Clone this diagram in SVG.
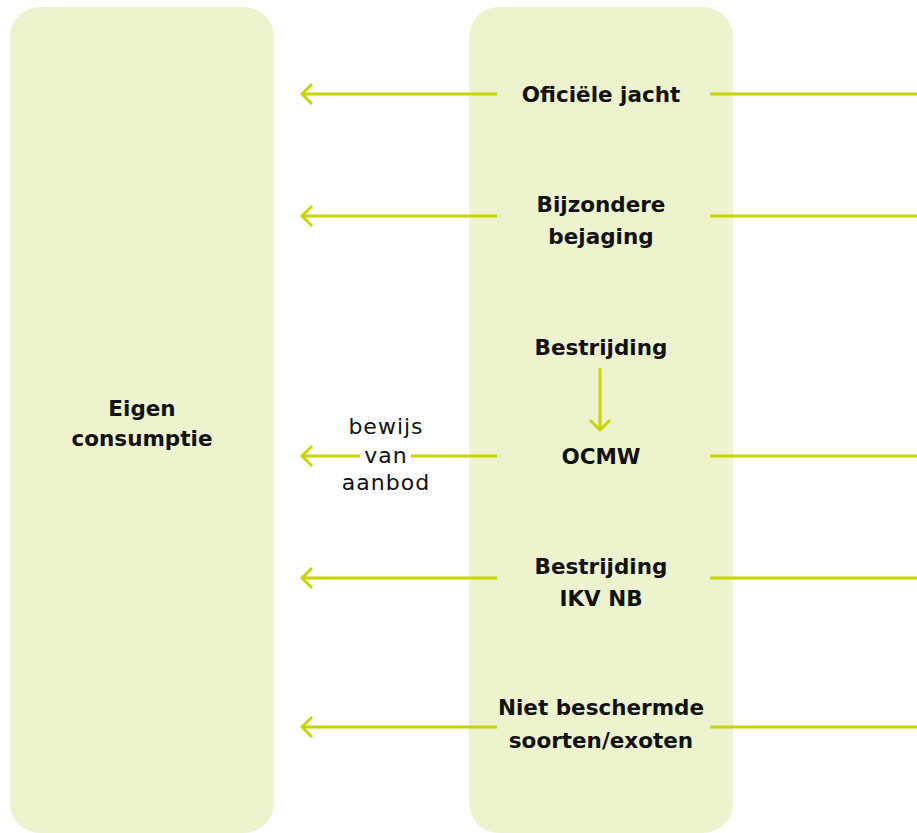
<svg xmlns="http://www.w3.org/2000/svg" width="917" height="833" viewBox="0 0 917 833">
<style>
.box{fill:#eef3cf}
.t{font-family:"DejaVu Sans",sans-serif;font-weight:bold;font-size:21.5px;fill:#111;text-anchor:middle}
.s{font-family:"DejaVu Sans",sans-serif;font-size:22px;letter-spacing:1px;fill:#111;text-anchor:middle}
.ln{stroke:#c8d400;stroke-width:3;fill:none}
</style>
<defs>
<marker id="ah" markerUnits="userSpaceOnUse" markerWidth="20" markerHeight="26" refX="18" refY="13" orient="auto" viewBox="0 0 20 26">
<path d="M8,3 L18,13 L8,23" fill="none" stroke="#c8d400" stroke-width="3"/>
</marker>
</defs>
<g id="eigen-consumptie">
<rect class="box" x="10" y="7" width="264" height="826" rx="30"/>
<text class="t" x="142" y="416">Eigen</text>
<text class="t" x="142" y="446">consumptie</text>
</g>
<g id="center-panel">
<rect class="box" x="469" y="7" width="264" height="826" rx="30"/>
</g>
<g id="connectors">
<line class="ln" x1="497" y1="94" x2="302" y2="94" marker-end="url(#ah)"/>
<line class="ln" x1="710" y1="94" x2="917" y2="94"/>
<line class="ln" x1="497" y1="216" x2="302" y2="216" marker-end="url(#ah)"/>
<line class="ln" x1="710" y1="216" x2="917" y2="216"/>
<line class="ln" x1="600" y1="368" x2="600" y2="430" marker-end="url(#ah)"/>
<line class="ln" x1="360" y1="456" x2="302" y2="456" marker-end="url(#ah)"/>
<line class="ln" x1="497" y1="456" x2="411" y2="456"/>
<line class="ln" x1="710" y1="456" x2="917" y2="456"/>
<line class="ln" x1="497" y1="578" x2="302" y2="578" marker-end="url(#ah)"/>
<line class="ln" x1="710" y1="578" x2="917" y2="578"/>
<line class="ln" x1="497" y1="727" x2="302" y2="727" marker-end="url(#ah)"/>
<line class="ln" x1="710" y1="727" x2="917" y2="727"/>
</g>
<g id="label-bewijs">
<text class="s" x="386" y="434">bewijs</text>
<text class="s" x="386" y="463">van</text>
<text class="s" x="386" y="490">aanbod</text>
</g>
<g id="officiele-jacht"><text class="t" x="601" y="102">Oficiële jacht</text></g>
<g id="bijzondere-bejaging"><text class="t" x="601" y="212">Bijzondere</text><text class="t" x="601" y="244">bejaging</text></g>
<g id="bestrijding"><text class="t" x="601" y="355">Bestrijding</text></g>
<g id="ocmw"><text class="t" x="601" y="464">OCMW</text></g>
<g id="bestrijding-ikv"><text class="t" x="601" y="574">Bestrijding</text><text class="t" x="601" y="606">IKV NB</text></g>
<g id="niet-beschermde"><text class="t" x="601" y="715">Niet beschermde</text><text class="t" x="601" y="748">soorten/exoten</text></g>
</svg>
